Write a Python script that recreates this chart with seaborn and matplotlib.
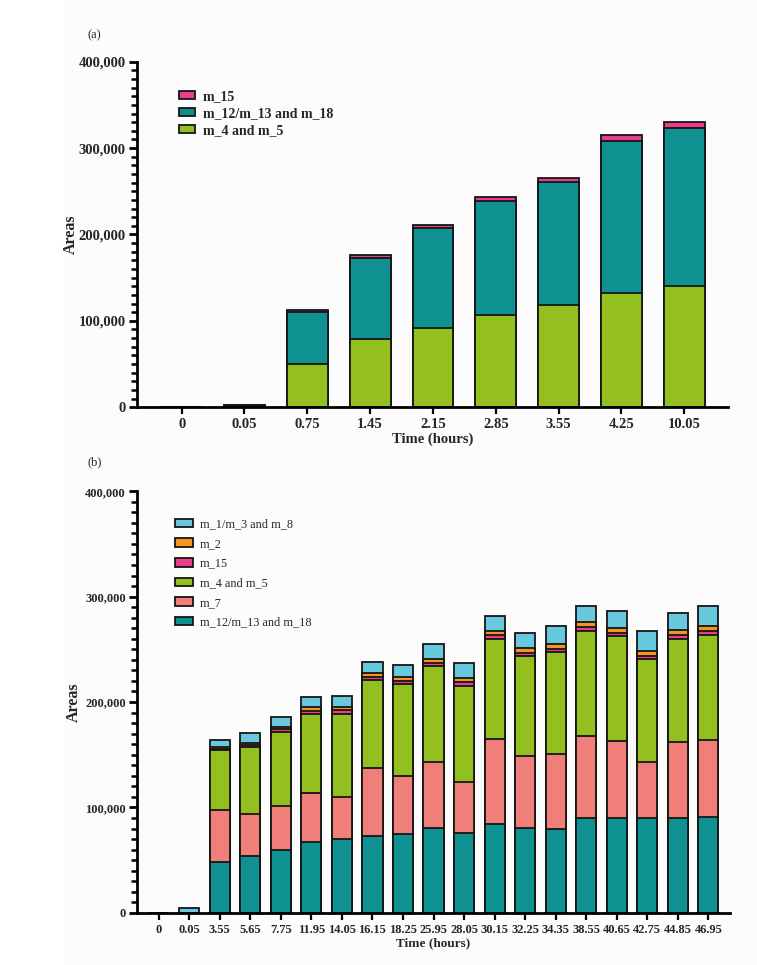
import seaborn as sns
import matplotlib.pyplot as plt
import pandas as pd
from matplotlib.patches import Patch, Rectangle
from matplotlib.ticker import MultipleLocator, FuncFormatter

# panel (a) - areas in thousands
times_a = ['0', '0.05', '0.75', '1.45', '2.15', '2.85', '3.55', '4.25', '10.05']
m4_5_a = [0, 1.2, 50.2, 78.5, 92.0, 106.7, 118.3, 131.8, 140.7]
m12_a = [0, 1.0, 60.3, 94.6, 115.9, 132.1, 142.2, 177.0, 182.4]
m15_a = [0, 0.5, 2.3, 3.1, 3.5, 4.7, 5.4, 6.6, 6.9]

# panel (b) - areas in thousands
times_b = ['0', '0.05', '3.55', '5.65', '7.75', '11.95', '14.05', '16.15',
           '18.25', '25.95', '28.05', '30.15', '32.25', '34.35', '38.55',
           '40.65', '42.75', '44.85', '46.95']
m12_b = [0, 0, 48.0, 54.3, 60.0, 67.0, 69.8, 72.7, 74.6, 80.3, 75.8, 84.4,
         80.3, 79.6, 90.0, 90.4, 89.7, 89.7, 91.0]
m7_b = [0, 0, 49.9, 39.5, 41.4, 46.7, 40.5, 64.4, 55.6, 63.1, 48.4, 80.2,
        68.8, 71.1, 78.1, 72.4, 53.1, 72.1, 72.7]
m4_5_b = [0, 0, 56.3, 63.2, 69.9, 75.2, 78.6, 83.4, 86.9, 90.7, 91.3, 94.8,
          94.5, 97.0, 99.2, 99.5, 97.7, 97.9, 99.8]
m15_b = [0, 0, 1.7, 2.0, 2.7, 2.6, 3.2, 3.5, 2.8, 2.9, 3.5, 3.8, 2.8, 2.9,
         3.8, 3.4, 3.4, 3.8, 3.8]
m2_b = [0, 0, 1.7, 2.2, 2.5, 3.5, 3.5, 3.5, 3.5, 4.0, 4.0, 4.1, 4.8, 4.7,
        4.7, 4.4, 4.4, 5.0, 5.0]
m1_b = [0, 5.0, 6.3, 9.6, 9.3, 9.7, 10.1, 10.7, 12.0, 14.3, 14.3, 14.5,
        14.2, 16.4, 14.9, 16.2, 18.7, 15.6, 18.7]

TEAL = '#0f9192'
GREEN = '#93c01f'
PINK = '#e83e8c'
SALMON = '#f07f7a'
ORANGE = '#f7941d'
BLUE = '#68c8dd'
EDGE = '#151515'
SERIF = 'Liberation Serif'


def stacked(ax, cats, layers, width):
    """Draw stacked bars (bottom layer first in `layers`) via seaborn."""
    df = pd.DataFrame({'time': cats})
    running = [0.0] * len(cats)
    cums = []
    for name, vals, color in layers:
        running = [r + v * 1000 for r, v in zip(running, vals)]
        cums.append((name, list(running), color))
    # tallest cumulative first so lower layers paint over it
    for name, cum, color in reversed(cums):
        df['y'] = cum
        sns.barplot(data=df, x='time', y='y', order=cats, color=color,
                    edgecolor=EDGE, linewidth=1.3, width=width,
                    saturation=1, errorbar=None, ax=ax)


def style_axis(ax, n, tick_size, label_x, xlabel_size):
    sns.despine(ax=ax)
    for side in ['left', 'bottom']:
        ax.spines[side].set_linewidth(2)
        ax.spines[side].set_color('black')
    ax.set_ylim(0, 400000)
    ax.set_xlim(-0.71, n - 1 + 0.70)
    ax.yaxis.set_major_locator(MultipleLocator(100000))
    ax.yaxis.set_minor_locator(MultipleLocator(10000))
    ax.yaxis.set_major_formatter(FuncFormatter(lambda v, p: f'{v:,.0f}'))
    ax.tick_params(axis='y', which='both', left=True, color='black')
    ax.tick_params(axis='x', which='major', bottom=True, color='black')
    ax.tick_params(axis='y', which='major', length=6, width=2,
                   labelsize=tick_size, pad=2)
    ax.tick_params(axis='y', which='minor', length=4, width=1.8)
    ax.tick_params(axis='x', length=5, width=1.6, labelsize=tick_size, pad=3)
    for lab in ax.get_xticklabels() + ax.get_yticklabels():
        lab.set_fontweight('bold')
        lab.set_family(SERIF)
    ax.set_xlabel('Time (hours)', fontsize=xlabel_size, fontweight='bold',
                  family=SERIF, labelpad=1)
    ax.set_ylabel('Areas', fontsize=11.5, fontweight='bold', family=SERIF)
    ax.yaxis.set_label_coords(label_x, 0.5)
    ax.grid(False)
    ax.set_facecolor('none')


def main():
    sns.set_style('white')
    plt.rcParams['font.family'] = [SERIF, 'DejaVu Serif']

    fig = plt.figure(figsize=(7.57, 9.65), dpi=100)
    fig.patches.append(Rectangle((65 / 757, 0), 1, 1, transform=fig.transFigure,
                                 color='#fcfcfc', zorder=-10))

    # ---- panel (a)
    ax1 = fig.add_axes([0.181, 0.578, 0.781, 0.358])
    stacked(ax1, times_a, [('m_4 and m_5', m4_5_a, GREEN),
                           ('m_12/m_13 and m_18', m12_a, TEAL),
                           ('m_15', m15_a, PINK)], 0.65)
    style_axis(ax1, len(times_a), 10.5, -0.098, 10.5)
    handles = [Patch(facecolor=PINK, edgecolor=EDGE, linewidth=1.3),
               Patch(facecolor=TEAL, edgecolor=EDGE, linewidth=1.3),
               Patch(facecolor=GREEN, edgecolor=EDGE, linewidth=1.3)]
    ax1.legend(handles, ['m_15', 'm_12/m_13 and m_18', 'm_4 and m_5'],
               loc='upper left', bbox_to_anchor=(0.062, 0.935), frameon=False,
               prop={'family': SERIF, 'weight': 'bold', 'size': 10},
               handlelength=1.1, handleheight=0.55, handletextpad=0.6,
               labelspacing=0.3, borderaxespad=0)

    # ---- panel (b)
    ax2 = fig.add_axes([0.181, 0.054, 0.783, 0.437])
    stacked(ax2, times_b, [('m_12/m_13 and m_18', m12_b, TEAL),
                           ('m_7', m7_b, SALMON),
                           ('m_4 and m_5', m4_5_b, GREEN),
                           ('m_15', m15_b, PINK),
                           ('m_2', m2_b, ORANGE),
                           ('m_1/m_3 and m_8', m1_b, BLUE)], 0.66)
    style_axis(ax2, len(times_b), 9, -0.093, 9.5)
    labels_b = ['m_1/m_3 and m_8', 'm_2', 'm_15', 'm_4 and m_5', 'm_7',
                'm_12/m_13 and m_18']
    colors_b = [BLUE, ORANGE, PINK, GREEN, SALMON, TEAL]
    handles_b = [Patch(facecolor=c, edgecolor=EDGE, linewidth=1.3)
                 for c in colors_b]
    ax2.legend(handles_b, labels_b, loc='upper left',
               bbox_to_anchor=(0.055, 0.947), frameon=False,
               prop={'family': SERIF, 'size': 8.8},
               handlelength=1.5, handleheight=0.7, handletextpad=0.6,
               labelspacing=0.62, borderaxespad=0)

    fig.text(87 / 757, 1 - 35 / 965, '(a)', fontsize=9, family=SERIF,
             ha='left', va='center')
    fig.text(87 / 757, 1 - 462 / 965, '(b)', fontsize=9, family=SERIF,
             ha='left', va='center')

    fig.savefig('out.png', dpi=100)


if __name__ == '__main__':
    main()
